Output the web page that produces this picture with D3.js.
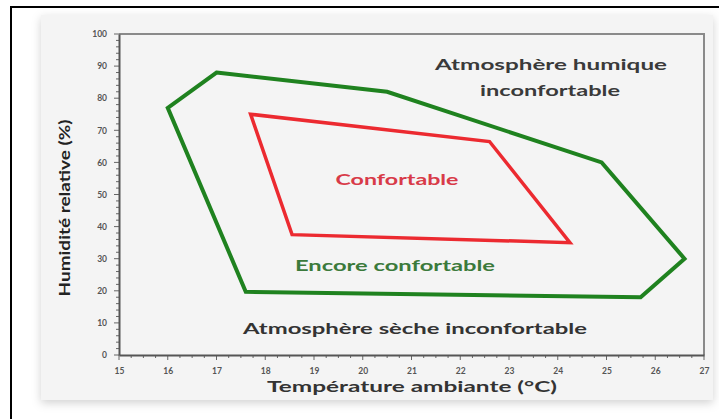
<!DOCTYPE html>
<html>
<head>
<meta charset="utf-8">
<script src="https://cdn.jsdelivr.net/npm/d3@7"></script>
<style>
  body { margin: 0; background: #fff; }
  text { font-family: Lato, "DejaVu Sans", sans-serif; }
</style>
</head>
<body>
<svg id="chart" width="719" height="419"></svg>
<script>
// zone polygons, [temperature °C, humidity %]
const encoreConfortable = [[17, 88], [20.5, 82], [24.9, 60], [26.6, 30], [25.7, 18], [17.6, 19.7], [16, 77]];
const confortable = [[17.7, 75], [22.6, 66.5], [24.25, 35], [18.55, 37.5]];
const xTicks = [15, 16, 17, 18, 19, 20, 21, 22, 23, 24, 25, 26, 27];
const yTicks = [0, 10, 20, 30, 40, 50, 60, 70, 80, 90, 100];
const yTickLabels = ["0", "10", "20", "30", "40", "50", "60", "70", "80", "90", "100"];

const svg = d3.select("#chart");

// drop shadow for the card
const defs = svg.append("defs");
const f = defs.append("filter").attr("id", "shadow").attr("x", "-5%").attr("y", "-5%").attr("width", "110%").attr("height", "115%");
f.append("feDropShadow").attr("dx", 0).attr("dy", 3).attr("stdDeviation", 5).attr("flood-color", "#000").attr("flood-opacity", 0.18);

// outer black frame (left and top)
svg.append("line").attr("x1", 11).attr("x2", 11).attr("y1", 6).attr("y2", 419).attr("stroke", "#000").attr("stroke-width", 2);
svg.append("line").attr("x1", 10).attr("x2", 719).attr("y1", 7).attr("y2", 7).attr("stroke", "#000").attr("stroke-width", 2);

// grey card
svg.append("rect")
  .attr("x", 41).attr("y", 15).attr("width", 672).attr("height", 385)
  .attr("fill", "#f4f4f4")
  .attr("filter", "url(#shadow)");

const x = d3.scaleLinear().domain([15, 27]).range([119, 704]);
const y = d3.scaleLinear().domain([0, 100]).range([355, 34]);

// plot frame top and right
svg.append("path")
  .attr("d", `M${x(15)},${y(100)}H${x(27)}V${y(0)}`)
  .attr("fill", "none").attr("stroke", "#8a8a8a").attr("stroke-width", 2);

// minor ticks
const xMinor = d3.range(15, 27.001, 0.25);
svg.append("g").selectAll("line").data(xMinor).enter().append("line")
  .attr("x1", d => x(d)).attr("x2", d => x(d))
  .attr("y1", y(0))
  .attr("y2", d => y(0) + (Math.abs(d - Math.round(d)) < 1e-6 ? 5 : 3))
  .attr("stroke", "#666").attr("stroke-width", 1);

const yMinor = d3.range(0, 100.001, 2);
svg.append("g").selectAll("line").data(yMinor).enter().append("line")
  .attr("y1", d => y(d)).attr("y2", d => y(d))
  .attr("x1", x(15))
  .attr("x2", d => x(15) - (d % 10 === 0 ? 5 : 3))
  .attr("stroke", "#666").attr("stroke-width", 1);

// axes (lines + labels)
const xAxis = svg.append("g")
  .attr("transform", `translate(0,${y(0)})`)
  .call(d3.axisBottom(x).tickValues(xTicks).tickSize(0).tickPadding(13).tickFormat(d3.format("d")));
xAxis.select(".domain").attr("stroke", "#555").attr("stroke-width", 2);
xAxis.selectAll("text").attr("fill", "#555").attr("font-size", 8.5).attr("font-weight", "bold");

const yAxis = svg.append("g")
  .attr("transform", `translate(${x(15)},0)`)
  .call(d3.axisLeft(y).tickValues(yTicks).tickSize(0).tickPadding(12).tickFormat((d, i) => yTickLabels[i]));
yAxis.select(".domain").attr("stroke", "#555").attr("stroke-width", 2);
yAxis.selectAll("text").attr("fill", "#555").attr("font-size", 8.5).attr("font-weight", "bold");

// polygons
const line = d3.line().x(d => x(d[0])).y(d => y(d[1])).curve(d3.curveLinearClosed);
svg.append("path").attr("d", line(encoreConfortable))
  .attr("fill", "none").attr("stroke", "#1f821f").attr("stroke-width", 4).attr("stroke-linejoin", "miter");
svg.append("path").attr("d", line(confortable))
  .attr("fill", "none").attr("stroke", "#ec2a30").attr("stroke-width", 3.5).attr("stroke-linejoin", "miter");

// zone labels, width matched to the reference
function label(t, cx, cy, color, size, len) {
  svg.append("text").attr("x", cx).attr("y", cy)
    .attr("text-anchor", "middle").attr("font-weight", "bold")
    .attr("font-size", size)
    .attr("textLength", len).attr("lengthAdjust", "spacingAndGlyphs")
    .attr("fill", color).text(t);
}
label("Atmosphère humique", 551, 70, "#3a3a3a", 14.5, 232);
label("inconfortable", 550, 96, "#3a3a3a", 14.5, 140);
label("Confortable", 397, 185, "#d83a48", 14.5, 123);
label("Encore confortable", 395, 271, "#3b7a3b", 14.5, 200);
label("Atmosphère sèche inconfortable", 415, 334, "#333", 15, 344);

// axis titles
label("Température ambiante (°C)", 412, 392, "#333", 14.5, 290);
svg.append("text")
  .attr("transform", "translate(70,208) rotate(-90)")
  .attr("text-anchor", "middle").attr("font-weight", "bold")
  .attr("font-size", 14.5).attr("fill", "#222")
  .attr("textLength", 177).attr("lengthAdjust", "spacingAndGlyphs")
  .text("Humidité relative (%)");
</script>
</body>
</html>
